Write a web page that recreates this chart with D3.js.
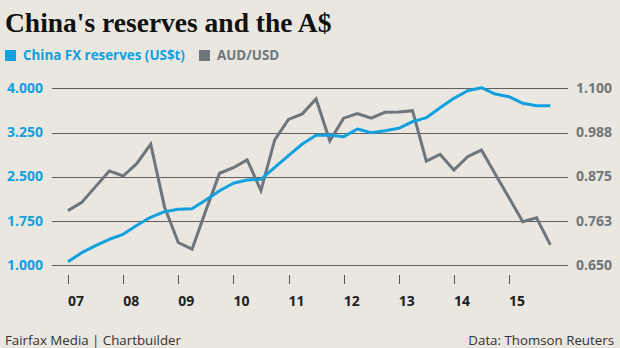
<!DOCTYPE html>
<html>
<head>
<meta charset="utf-8">
<script src="https://cdn.jsdelivr.net/npm/d3@7"></script>
<style>
  body { margin: 0; background: #e9e7e0; }
  svg { display: block; }
</style>
</head>
<body>
<div id="chart"></div>
<script>

// quarterly observations, Q1 2007 .. Q4 2015
var quarters = d3.range(36).map(function(i) {return 2007 + i / 4});

var reserves = [1.061, 1.214, 1.332, 1.441, 1.525, 1.678, 1.814, 1.909, 1.949, 1.959,
                2.107, 2.264, 2.390, 2.446, 2.458, 2.661, 2.858, 3.056, 3.203, 3.208,
                3.180, 3.310, 3.248, 3.281, 3.322, 3.434, 3.502, 3.671, 3.830, 3.959,
                4.010, 3.903, 3.858, 3.746, 3.705, 3.705];

var audusd = [0.789, 0.810, 0.850, 0.890, 0.877, 0.909, 0.958, 0.799, 0.708, 0.691,
              0.789, 0.884, 0.898, 0.918, 0.840, 0.969, 1.021, 1.035, 1.073, 0.966,
              1.024, 1.036, 1.024, 1.039, 1.040, 1.043, 0.915, 0.932, 0.892, 0.926,
              0.943, 0.882, 0.822, 0.761, 0.771, 0.702];

var years = [2007, 2008, 2009, 2010, 2011, 2012, 2013, 2014, 2015];
var yearLabels = ["07", "08", "09", "10", "11", "12", "13", "14", "15"];

var leftTicks = [1.000, 1.750, 2.500, 3.250, 4.000];
var leftLabels = ["1.000", "1.750", "2.500", "3.250", "4.000"];
var rightTicks = [0.650, 0.7625, 0.875, 0.9875, 1.100];
var rightLabels = ["0.650", "0.763", "0.875", "0.988", "1.100"];

var blue = "#12a0de";
var grey = "#6e767b";
var sans = "'Open Sans', sans-serif";

var width = 620, height = 348;
var grid_left = 52, grid_right = 568;

var x = d3.scaleLinear().domain([2007, 2015]).range([68, 509]);
var yLeft = d3.scaleLinear().domain([1, 4]).range([265.3, 88.3]);
var yRight = d3.scaleLinear().domain([0.65, 1.1]).range([265.3, 88.3]);

var svg = d3.select("#chart").append("svg")
  .attr("width", width)
  .attr("height", height);

svg.append("rect")
  .attr("width", width).attr("height", height)
  .attr("fill", "#e9e7e0");

// title
svg.append("text")
  .attr("x", 5).attr("y", 32)
  .attr("font-family", "'Liberation Serif', serif")
  .attr("font-weight", "bold")
  .attr("font-size", 27.5)
  .attr("fill", "#111")
  .text("China's reserves and the A$");

// legend
var legend = [
  {label: "China FX reserves (US$t)", color: blue, x: 5},
  {label: "AUD/USD", color: grey, x: 199}
];
var lg = svg.selectAll("g.legend").data(legend).enter()
  .append("g").attr("class", "legend")
  .attr("transform", function(d) {return "translate(" + d.x + ",50)"});
lg.append("rect").attr("width", 11).attr("height", 11).attr("fill", function(d) {return d.color});
lg.append("text")
  .attr("x", 18).attr("y", 10)
  .attr("font-family", sans).attr("font-weight", "bold").attr("font-size", 13.4)
  .attr("fill", function(d) {return d.color})
  .text(function(d) {return d.label});

// gridlines
svg.append("g").selectAll("line").data(leftTicks).enter()
  .append("line")
  .attr("x1", grid_left).attr("x2", grid_right)
  .attr("y1", function(d) {return Math.round(yLeft(d)) + 0.5})
  .attr("y2", function(d) {return Math.round(yLeft(d)) + 0.5})
  .attr("stroke", "#5f5f5f").attr("stroke-width", 1);

// left axis labels
svg.append("g").selectAll("text").data(leftTicks).enter()
  .append("text")
  .attr("x", 43)
  .attr("y", function(d) {return yLeft(d) + 4.5})
  .attr("text-anchor", "end")
  .attr("font-family", sans).attr("font-weight", "bold").attr("font-size", 14)
  .attr("fill", blue)
  .text(function(d, i) {return leftLabels[i]});

// right axis labels
svg.append("g").selectAll("text").data(rightTicks).enter()
  .append("text")
  .attr("x", 576)
  .attr("y", function(d) {return yRight(d) + 4.5})
  .attr("font-family", sans).attr("font-weight", "bold").attr("font-size", 14)
  .attr("fill", grey)
  .text(function(d, i) {return rightLabels[i]});

// year ticks
var xAxis = svg.append("g");
xAxis.selectAll("line").data(years).enter()
  .append("line")
  .attr("x1", function(d) {return Math.round(x(d)) + 0.5})
  .attr("x2", function(d) {return Math.round(x(d)) + 0.5})
  .attr("y1", 275).attr("y2", 284)
  .attr("stroke", "#555").attr("stroke-width", 1);
xAxis.selectAll("text").data(years).enter()
  .append("text")
  .attr("x", function(d) {return x(d)})
  .attr("y", 306)
  .attr("font-family", sans).attr("font-weight", "bold").attr("font-size", 14)
  .attr("fill", "#222")
  .text(function(d, i) {return yearLabels[i]});

// series
var lineLeft = d3.line()
  .x(function(d, i) {return x(quarters[i])})
  .y(function(d) {return yLeft(d)});
var lineRight = d3.line()
  .x(function(d, i) {return x(quarters[i])})
  .y(function(d) {return yRight(d)});

svg.append("path")
  .attr("d", lineRight(audusd))
  .attr("fill", "none").attr("stroke", grey)
  .attr("stroke-width", 3).attr("stroke-linejoin", "miter");

svg.append("path")
  .attr("d", lineLeft(reserves))
  .attr("fill", "none").attr("stroke", blue)
  .attr("stroke-width", 3).attr("stroke-linejoin", "round");

// footer
svg.append("text")
  .attr("x", 5).attr("y", 345)
  .attr("font-family", sans).attr("font-size", 13.3)
  .attr("fill", "#333")
  .text("Fairfax Media | Chartbuilder");
svg.append("text")
  .attr("x", 614).attr("y", 345)
  .attr("text-anchor", "end")
  .attr("font-family", sans).attr("font-size", 13.3)
  .attr("fill", "#333")
  .text("Data: Thomson Reuters");

</script>
</body>
</html>
